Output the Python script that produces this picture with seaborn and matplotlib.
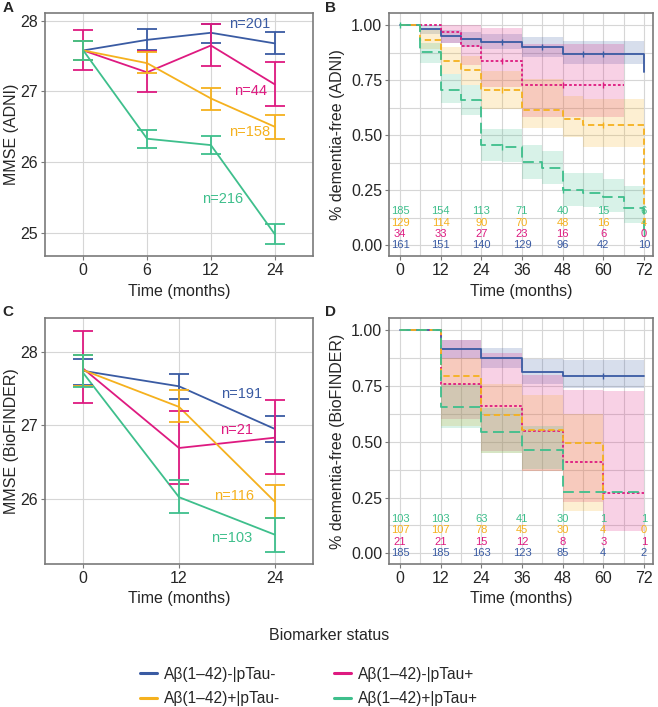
import matplotlib
matplotlib.use("Agg")
import matplotlib.pyplot as plt
import seaborn as sns
import numpy as np
import pandas as pd

sns.set_style("whitegrid")
plt.rcParams['font.family'] = ['Liberation Sans', 'DejaVu Sans']

groups = ["Aβ(1–42)-|pTau-", "Aβ(1–42)-|pTau+", "Aβ(1–42)+|pTau-", "Aβ(1–42)+|pTau+"]
colors = ["#3A5BA3", "#DE1A80", "#F5B11E", "#3EBF8C"]
pal = dict(zip(groups, colors))

# ---- MMSE ADNI (panel A)
adni_times = ["0", "6", "12", "24"]
adni_mean = {
    groups[0]: [27.58, 27.73, 27.83, 27.68],
    groups[1]: [27.58, 27.27, 27.65, 27.10],
    groups[2]: [27.58, 27.40, 26.90, 26.50],
    groups[3]: [27.58, 26.33, 26.24, 24.98],
}
adni_lo = {
    groups[0]: [27.45, 27.58, 27.69, 27.53],
    groups[1]: [27.30, 26.99, 27.36, 26.79],
    groups[2]: [27.45, 27.26, 26.74, 26.33],
    groups[3]: [27.45, 26.20, 26.12, 24.84],
}
adni_hi = {
    groups[0]: [27.72, 27.88, 27.96, 27.84],
    groups[1]: [27.87, 27.57, 27.96, 27.42],
    groups[2]: [27.72, 27.56, 27.05, 26.66],
    groups[3]: [27.72, 26.46, 26.37, 25.12],
}
adni_n = ["n=201", "n=44", "n=158", "n=216"]
adni_n_pos = [(2.6, 27.95), (2.62, 27.0), (2.6, 26.42), (2.18, 25.48)]

# ---- MMSE BioFINDER (panel C)
bf_times = ["0", "12", "24"]
bf_mean = {
    groups[0]: [27.74, 27.53, 26.95],
    groups[1]: [27.77, 26.69, 26.83],
    groups[2]: [27.75, 27.25, 25.96],
    groups[3]: [27.71, 26.02, 25.51],
}
bf_lo = {
    groups[0]: [27.55, 27.36, 26.77],
    groups[1]: [27.30, 26.20, 26.33],
    groups[2]: [27.53, 27.04, 25.74],
    groups[3]: [27.52, 25.80, 25.27],
}
bf_hi = {
    groups[0]: [27.90, 27.70, 27.12],
    groups[1]: [28.28, 27.19, 27.34],
    groups[2]: [27.96, 27.48, 26.19],
    groups[3]: [27.96, 26.25, 25.73],
}
bf_n = ["n=191", "n=21", "n=116", "n=103"]
bf_n_pos = [(1.65, 27.43), (1.6, 26.93), (1.58, 26.04), (1.55, 25.46)]

# ---- Kaplan-Meier ADNI (panel B)
km_adni_t = {
    groups[0]: [0, 6, 12, 18, 24, 36, 48, 72],
    groups[1]: [0, 12, 18, 24, 36, 66],
    groups[2]: [0, 6, 12, 18, 24, 36, 48, 54, 72],
    groups[3]: [0, 6, 12, 18, 24, 30, 36, 42, 48, 54, 60, 66, 72],
}
km_adni_s = {
    groups[0]: [1, 0.982, 0.952, 0.937, 0.922, 0.900, 0.869, 0.786],
    groups[1]: [1, 0.971, 0.907, 0.839, 0.730, 0.730],
    groups[2]: [1, 0.934, 0.839, 0.797, 0.706, 0.616, 0.575, 0.545, 0.10],
    groups[3]: [1, 0.88, 0.706, 0.658, 0.455, 0.447, 0.377, 0.35, 0.25, 0.24, 0.222, 0.169, 0.056],
}
km_adni_lo = {
    groups[0]: [1, 0.96, 0.92, 0.90, 0.89, 0.855, 0.825, 0.825],
    groups[1]: [1, 0.92, 0.82, 0.72, 0.585, 0.585],
    groups[2]: [1, 0.89, 0.78, 0.73, 0.62, 0.533, 0.49, 0.447, 0.447],
    groups[3]: [1, 0.83, 0.645, 0.59, 0.385, 0.38, 0.30, 0.28, 0.18, 0.175, 0.15, 0.10, 0.10],
}
km_adni_hi = {
    groups[0]: [1, 1.0, 0.98, 0.97, 0.96, 0.945, 0.929, 0.929],
    groups[1]: [1, 1.0, 1.0, 0.985, 0.915, 0.915],
    groups[2]: [1, 0.98, 0.90, 0.86, 0.79, 0.756, 0.68, 0.666, 0.666],
    groups[3]: [1, 0.92, 0.78, 0.73, 0.53, 0.53, 0.455, 0.43, 0.33, 0.33, 0.30, 0.27, 0.27],
}
km_adni_cens = {
    groups[0]: [30, 42, 54, 60],
    groups[1]: [30, 48, 60],
    groups[2]: [30, 60],
    groups[3]: [0, 30, 48, 72],
}
risk_adni = {
    groups[3]: [185, 154, 113, 71, 40, 15, 6],
    groups[2]: [129, 114, 90, 70, 48, 16, 4],
    groups[1]: [34, 33, 27, 23, 16, 6, 0],
    groups[0]: [161, 151, 140, 129, 96, 42, 10],
}

# ---- Kaplan-Meier BioFINDER (panel D)
km_bf_t = {
    groups[0]: [0, 12, 24, 36, 48, 72],
    groups[1]: [0, 12, 24, 36, 48, 60, 72],
    groups[2]: [0, 12, 24, 36, 48, 60],
    groups[3]: [0, 12, 24, 36, 48, 72],
}
km_bf_s = {
    groups[0]: [1, 0.918, 0.876, 0.813, 0.796, 0.796],
    groups[1]: [1, 0.76, 0.66, 0.55, 0.41, 0.272, 0.272],
    groups[2]: [1, 0.793, 0.622, 0.554, 0.495, 0.24],
    groups[3]: [1, 0.657, 0.544, 0.464, 0.275, 0.275],
}
km_bf_lo = {
    groups[0]: [1, 0.87, 0.83, 0.76, 0.74, 0.74],
    groups[1]: [1, 0.60, 0.46, 0.37, 0.23, 0.10, 0.10],
    groups[2]: [1, 0.57, 0.45, 0.37, 0.19, 0.19],
    groups[3]: [1, 0.56, 0.45, 0.38, 0.275, 0.275],
}
km_bf_hi = {
    groups[0]: [1, 0.955, 0.92, 0.87, 0.865, 0.865],
    groups[1]: [1, 0.955, 0.90, 0.80, 0.73, 0.728, 0.728],
    groups[2]: [1, 0.876, 0.76, 0.71, 0.626, 0.626],
    groups[3]: [1, 0.76, 0.65, 0.57, 0.275, 0.275],
}
km_bf_cens = {
    groups[0]: [60],
    groups[1]: [],
    groups[2]: [],
    groups[3]: [],
}
risk_bf = {
    groups[3]: [103, 103, 63, 41, 30, 1, 1],
    groups[2]: [107, 107, 78, 45, 30, 4, 0],
    groups[1]: [21, 21, 15, 12, 8, 3, 1],
    groups[0]: [185, 185, 163, 123, 85, 4, 2],
}
risk_times = [0, 12, 24, 36, 48, 60, 72]

dashes = {groups[0]: "", groups[1]: (1.5, 1.2), groups[2]: (3.5, 2), groups[3]: (6, 3)}

W, H = 658, 707
fig = plt.figure(figsize=(W / 100, H / 100), dpi=100)

def box(l, t, r, b):
    return [l / W, 1 - b / H, (r - l) / W, (b - t) / H]

axA = fig.add_axes(box(45, 13, 313, 256))
axB = fig.add_axes(box(389, 13, 653, 256))
axC = fig.add_axes(box(45, 318, 313, 564))
axD = fig.add_axes(box(389, 318, 653, 564))

grid_c = "#d6d6d6"

def style(ax):
    for s in ax.spines.values():
        s.set_color("#7a7a7a")
        s.set_linewidth(1.2)
    ax.tick_params(axis="both", labelsize=11.5, length=3, color="#7a7a7a", pad=2, direction="out",
                   bottom=True, left=True)
    ax.grid(True, color=grid_c, lw=0.8)
    ax.set_axisbelow(True)


def mmse_panel(ax, times, mean, lo, hi, nlab, npos, ylab, ylim, yticks):
    rows = []
    for g in groups:
        for i, t in enumerate(times):
            rows.append({"pos": i, "mmse": mean[g][i], "group": g})
    df = pd.DataFrame(rows)
    sns.lineplot(data=df, x="pos", y="mmse", hue="group", palette=pal, estimator=None,
                 legend=False, lw=1.3, ax=ax)
    for g in groups:
        x = np.arange(len(times))
        m = np.array(mean[g])
        ax.errorbar(x, m, yerr=[m - np.array(lo[g]), np.array(hi[g]) - m], fmt="none",
                    ecolor=pal[g], elinewidth=1.3, capsize=7, capthick=1.3)
    for g, lab, (x, y) in zip(groups, nlab, npos):
        ax.text(x, y, lab, color=pal[g], fontsize=10.5, ha="center", va="center")
    ax.set_xticks(range(len(times)))
    ax.set_xticklabels(times)
    n = len(times)
    pad = 0.6 if n == 4 else 0.4
    ax.set_xlim(-pad, n - 1 + pad)
    ax.set_ylim(*ylim)
    ax.set_yticks(yticks)
    ax.set_xlabel("Time (months)", fontsize=11.5)
    ax.set_ylabel(ylab, fontsize=11.5, labelpad=1)
    style(ax)


def km_panel(ax, tt, ss, lo, hi, cens, risk, ylab):
    rows = []
    for g in groups:
        for t, s in zip(tt[g], ss[g]):
            rows.append({"time": t, "surv": s, "group": g})
    df = pd.DataFrame(rows)
    for g in groups:
        ax.fill_between(tt[g], lo[g], hi[g], step="post", color=pal[g], alpha=0.2, lw=0)
    sns.lineplot(data=df, x="time", y="surv", hue="group", style="group", palette=pal,
                 dashes=dashes, estimator=None, sort=False, drawstyle="steps-post",
                 legend=False, lw=1.3, ax=ax)
    for g in groups:
        if cens[g]:
            t = np.array(tt[g])
            s = np.array(ss[g])
            cy = [s[np.searchsorted(t, c, side="right") - 1] for c in cens[g]]
            ax.plot(cens[g], cy, ls="none", marker="|", ms=5, mew=1, color=pal[g])
    ypos = [0.155, 0.103, 0.05, 0.0]
    for g, y in zip([groups[3], groups[2], groups[1], groups[0]], ypos):
        for t, v in zip(risk_times, risk[g]):
            ax.text(t, y, str(v), color=pal[g], fontsize=8, ha="center", va="center")
    ax.set_xlim(-3.3, 74.7)
    ax.set_ylim(-0.048, 1.055)
    ax.set_xticks(risk_times)
    ax.set_xticks([6, 18, 30, 42, 54, 66], minor=True)
    ax.set_yticks([0, 0.25, 0.5, 0.75, 1.0])
    ax.set_yticks([0.125, 0.375, 0.625, 0.875], minor=True)
    ax.set_yticklabels(["0.00", "0.25", "0.50", "0.75", "1.00"])
    ax.grid(True, which="minor", color=grid_c, lw=0.8)
    ax.tick_params(which="minor", length=0)
    ax.set_xlabel("Time (months)", fontsize=11.5)
    ax.set_ylabel(ylab, fontsize=11.5)
    style(ax)


mmse_panel(axA, adni_times, adni_mean, adni_lo, adni_hi, adni_n, adni_n_pos,
           "MMSE (ADNI)", (24.67, 28.11), [25, 26, 27, 28])
mmse_panel(axC, bf_times, bf_mean, bf_lo, bf_hi, bf_n, bf_n_pos,
           "MMSE (BioFINDER)", (25.11, 28.46), [26, 27, 28])
km_panel(axB, km_adni_t, km_adni_s, km_adni_lo, km_adni_hi, km_adni_cens, risk_adni,
         "% dementia-free (ADNI)")
km_panel(axD, km_bf_t, km_bf_s, km_bf_lo, km_bf_hi, km_bf_cens, risk_bf,
         "% dementia-free (BioFINDER)")

for lab, x, y in [("A", 8, 8), ("B", 330, 8), ("C", 8, 312), ("D", 330, 312)]:
    fig.text(x / W, 1 - y / H, lab, fontsize=11, fontweight="bold", ha="center", va="center")

# legend (title placed separately, centred on the figure)
fig.text(0.5, 1 - 636 / H, "Biomarker status", fontsize=11.5, ha="center", va="center")
handles = [plt.Line2D([], [], color=pal[g], lw=2.2) for g in [groups[0], groups[2], groups[1], groups[3]]]
labels = [groups[0], groups[2], groups[1], groups[3]]
fig.legend(handles, labels, loc="upper center", bbox_to_anchor=(309 / W, 1 - 656 / H), ncol=2,
           frameon=False, fontsize=11.2, handlelength=1.1, columnspacing=3.4,
           labelspacing=0.6, handletextpad=0.5, borderpad=0.2)

fig.savefig("out.png", dpi=100)
